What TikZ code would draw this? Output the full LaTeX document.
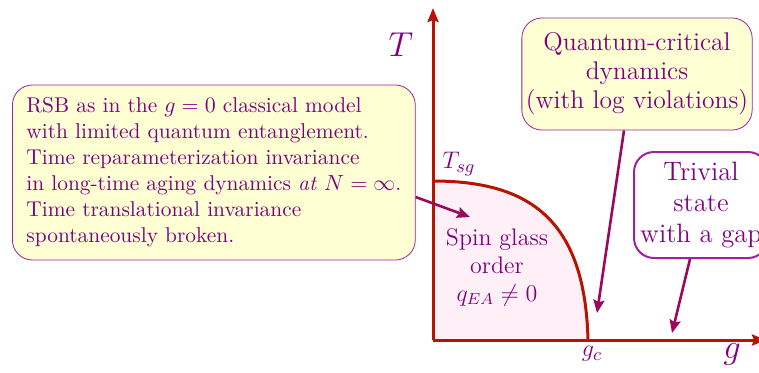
\documentclass[tikz,border=0pt]{standalone}
\usepackage{amsmath}
\usepackage{xcolor}
\definecolor{pdaxis}{HTML}{B41400}
\definecolor{pdtext}{HTML}{800080}
\definecolor{pdarrow}{HTML}{990A5F}
\definecolor{pdframe}{HTML}{A020A0}
\definecolor{pdyellow}{HTML}{FFFFD4}
\definecolor{pdpink}{HTML}{FFF0F8}
\usetikzlibrary{arrows.meta,positioning,calc}

\begin{document}
\begin{tikzpicture}[x=0.5pt,y=-0.5pt,text=pdtext,
  note/.style={draw=pdframe,rounded corners=10pt,fill=pdyellow,align=center},
  axis/.style={pdaxis,line width=1.5pt,-{Stealth[length=7pt,width=5.5pt,inset=1pt]}},
  conn/.style={pdarrow,line width=1.3pt,-{Stealth[length=6.5pt,width=5.5pt,inset=1pt]}}]
\useasboundingbox (0,0) rectangle (759,372);
% spin glass phase
\fill[pdpink] (433,181) .. controls (530,181) and (585,220) .. (588,340) -- (433,340) -- cycle;
\draw[pdaxis,line width=1.5pt] (433,181) .. controls (530,181) and (585,220) .. (588,340);
% axes
\coordinate (origin) at (433,340);
\draw[axis] (origin) -- (433,8);
\draw[axis] (origin) -- (766,340);
\node (Tlab) at (401,45) {\fontsize{17}{19}\selectfont$T$};
\node (glab) at (732,354) {\fontsize{17}{19}\selectfont$g$};
\node (Tsg) at (459,164) {\fontsize{13}{15}\selectfont$T_{sg}$};
\node (gc) at (592,354) {\fontsize{13}{15}\selectfont$g_c$};
% phase label
\node[align=center,font=\fontsize{12}{14}\selectfont] (sg) at (497,267)
  {Spin glass\\order\\$q_{EA}\neq 0$};
% annotation boxes
\node[note,align=left,anchor=west,inner xsep=7pt,minimum width=199pt,minimum height=87.5pt,
  font=\fontsize{10.7}{13}\selectfont] (rsb) at (12,172.5)
  {RSB as in the $g=0$ classical model\\
   with limited quantum entanglement.\\
   Time reparameterization invariance\\
   in long-time aging dynamics \emph{at} $N=\infty$.\\
   Time translational invariance\\
   spontaneously broken.};
\node[note,minimum width=115pt,minimum height=56pt,inner xsep=2pt,
  font=\fontsize{12.8}{14.5}\selectfont] (qc) at (637,74)
  {Quantum-critical\\dynamics\\(with log violations)};
\node[note,fill=white,line width=1pt,minimum width=67pt,minimum height=53pt,inner xsep=2pt,
  font=\fontsize{13.3}{15.5}\selectfont] (triv) at (701,205)
  {Trivial\\state\\with a gap};
% pointers
\coordinate (sgtip) at (470,217);
\coordinate (qctip) at (597,313);
\coordinate (trivtip) at (672,333);
\draw[conn] (rsb.east |- 0,197) -- (sgtip);
\draw[conn] ($(qc.south)+(-13,0)$) -- (qctip);
\draw[conn] ($(triv.south)+(-11,0)$) -- (trivtip);
\end{tikzpicture}
\end{document}
